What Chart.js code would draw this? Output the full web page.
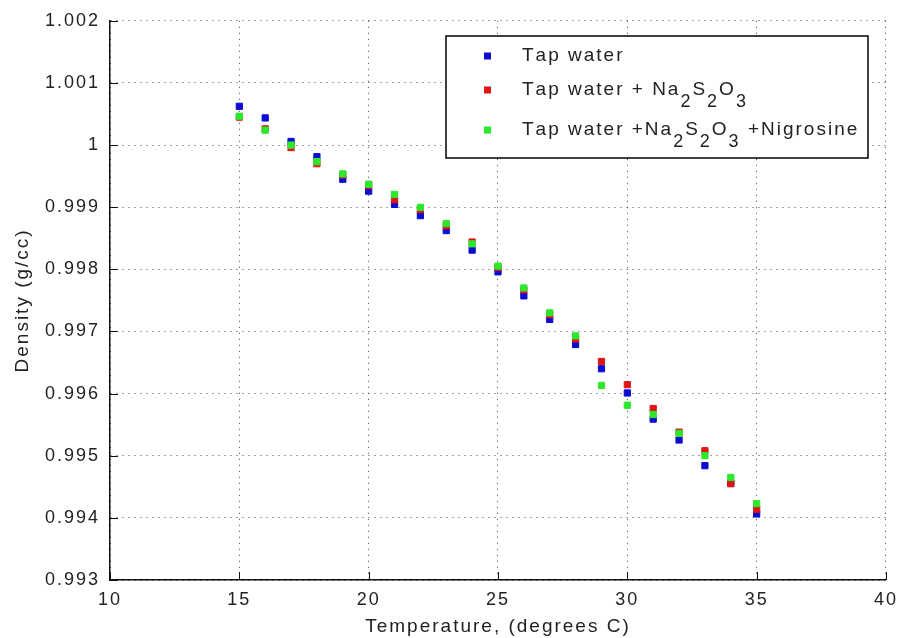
<!DOCTYPE html>
<html>
<head>
<meta charset="utf-8">
<script src="https://cdn.jsdelivr.net/npm/chart.js@4"></script>
<style>
  html, body { margin: 0; padding: 0; background: #fff; }
  #wrap { width: 907px; height: 638px; }
</style>
</head>
<body>
<div id="wrap"><canvas id="density-chart"></canvas></div>
<script>
// Density of tap water samples vs temperature, one reading per degree.
const temps = [15, 16, 17, 18, 19, 20, 21, 22, 23, 24, 25, 26, 27, 28, 29, 30, 31, 32, 33, 34, 35];

const tapWater = [
    1.000624, 1.000437, 1.000058, 0.999813, 0.999450, 0.999258, 0.999045,
    0.998864, 0.998624, 0.998310, 0.997960, 0.997573, 0.997194, 0.996790,
    0.996400, 0.996010, 0.995590, 0.995253, 0.994840, 0.994560, 0.994064
];
const tapThio = [
    1.000450, 1.000260, 0.999960, 0.999700, 0.999520, 0.999350, 0.999120,
    0.998960, 0.998700, 0.998440, 0.998030, 0.997670, 0.997270, 0.996880,
    0.996517, 0.996144, 0.995760, 0.995380, 0.995080, 0.994550, 0.994140
];
const tapThioNigrosine = [
    1.000464, 1.000240, 1.000000, 0.999733, 0.999536, 0.999370, 0.999205,
    0.998997, 0.998736, 0.998410, 0.998053, 0.997700, 0.997300, 0.996928,
    0.996133, 0.995813, 0.995664, 0.995360, 0.995002, 0.994650, 0.994230
];

// "_x" marks a subscript character in the legend text
const seriesLabels = ['Tap water', 'Tap water + Na_2S_2O_3', 'Tap water +Na_2S_2O_3 +Nigrosine'];
const seriesColors = ['#0b0bd2', '#e01515', '#2be82b'];

const xTicks = [10, 15, 20, 25, 30, 35, 40];
const yTicks = [0.993, 0.994, 0.995, 0.996, 0.997, 0.998, 0.999, 1.000, 1.001, 1.002];

const FONT = "'Liberation Sans', Arial, Helvetica, sans-serif";
const TEXT = '#222';

function points(ys) {
    return temps.map(function(t, i) { return { x: t, y: ys[i] }; });
}

function series(i, ys, order) {
    return {
        label: seriesLabels[i].replace(/_/g, ''),
        data: points(ys),
        backgroundColor: seriesColors[i],
        borderColor: seriesColors[i],
        borderWidth: 1,
        pointStyle: 'rect',
        pointRadius: 4.4,
        pointHoverRadius: 4.4,
        showLine: false,
        order: order,
    };
}

// Wide, airy labels like the old plotting tool
const spacingPlugin = {
    id: 'spacing',
    beforeUpdate(chart) { chart.ctx.letterSpacing = '2px'; },
    beforeDraw(chart) { chart.ctx.letterSpacing = '2px'; },
};

// Short tick marks pointing into the plot on the left and bottom axes
const innerTicksPlugin = {
    id: 'innerTicks',
    afterDatasetsDraw(chart) {
        const ctx = chart.ctx;
        const area = chart.chartArea;
        const xs = chart.scales.x, ys = chart.scales.y;
        ctx.save();
        ctx.strokeStyle = '#111';
        ctx.lineWidth = 1;
        ctx.beginPath();
        xTicks.forEach(function(v) {
            const px = Math.round(xs.getPixelForValue(v)) + 0.5;
            ctx.moveTo(px, area.bottom);
            ctx.lineTo(px, area.bottom - 8);
        });
        yTicks.forEach(function(v) {
            const py = Math.round(ys.getPixelForValue(v)) + 0.5;
            ctx.moveTo(area.left, py);
            ctx.lineTo(area.left + 8, py);
        });
        ctx.stroke();
        ctx.restore();
    }
};

// Boxed legend with chemical-formula subscripts
const formulaLegendPlugin = {
    id: 'formulaLegend',
    afterDraw(chart) {
        const ctx = chart.ctx;
        const box = { left: 446, top: 36, right: 868, bottom: 158 };
        const rowY = [56, 90, 130];
        ctx.save();
        ctx.fillStyle = '#fff';
        ctx.fillRect(box.left, box.top, box.right - box.left, box.bottom - box.top);
        ctx.strokeStyle = '#000';
        ctx.lineWidth = 1.5;
        ctx.strokeRect(box.left, box.top, box.right - box.left, box.bottom - box.top);

        ctx.textBaseline = 'middle';
        ctx.textAlign = 'left';
        seriesLabels.forEach(function(label, i) {
            const y = rowY[i];
            ctx.fillStyle = seriesColors[i];
            ctx.fillRect(484, y - 3.5, 7, 7);

            let x = 522;
            ctx.fillStyle = TEXT;
            for (let k = 0; k < label.length; k++) {
                const ch = label[k];
                if (ch === '_') {
                    const sub = label[++k];
                    ctx.font = '18px ' + FONT;
                    ctx.fillText(sub, x, y + 12);
                    x += ctx.measureText(sub).width;
                } else {
                    ctx.font = '19px ' + FONT;
                    ctx.fillText(ch, x, y);
                    x += ctx.measureText(ch).width;
                }
            }
        });
        ctx.restore();
    }
};

new Chart(document.getElementById('density-chart'), {
    type: 'scatter',
    data: {
        datasets: [
            series(0, tapWater, 2),
            series(1, tapThio, 1),
            series(2, tapThioNigrosine, 0),
        ]
    },
    options: {
        responsive: true,
        maintainAspectRatio: false,
        animation: false,
        events: [],
        layout: { padding: { left: 0, top: 17, right: 15, bottom: 0 } },
        plugins: {
            legend: { display: false },
            tooltip: { enabled: false },
        },
        scales: {
            x: {
                type: 'linear',
                min: 10,
                max: 40,
                afterBuildTicks(scale) { scale.ticks = xTicks.map(function(v) { return { value: v }; }); },
                afterFit(scale) { scale.height = 58; },
                grid: {
                    color: '#444',
                    lineWidth: 1,
                    drawTicks: false,
                },
                // dash here styles the dotted grid lines
                border: { display: true, color: '#111', width: 1.5, dash: [1, 5] },
                ticks: {
                    padding: 9,
                    color: TEXT,
                    font: { family: FONT, size: 18 },
                    maxRotation: 0,
                },
                title: {
                    display: true,
                    text: 'Temperature, (degrees C)',
                    color: TEXT,
                    font: { family: FONT, size: 19 },
                    padding: { top: 0, bottom: 0 },
                }
            },
            y: {
                type: 'linear',
                min: 0.993,
                max: 1.002,
                afterBuildTicks(scale) { scale.ticks = yTicks.map(function(v) { return { value: v }; }); },
                afterFit(scale) { scale.width = 110; },
                grid: {
                    color: '#444',
                    lineWidth: 1,
                    drawTicks: false,
                },
                border: { display: true, color: '#111', width: 1.5, dash: [1, 5] },
                ticks: {
                    padding: 10,
                    color: TEXT,
                    font: { family: FONT, size: 18 },
                    callback: function(v) { return String(parseFloat(v.toFixed(3))); },
                },
                title: {
                    display: true,
                    text: 'Density (g/cc)',
                    color: TEXT,
                    font: { family: FONT, size: 19 },
                    padding: { top: 11, bottom: 0 },
                }
            }
        }
    },
    plugins: [spacingPlugin, innerTicksPlugin, formulaLegendPlugin]
});
</script>
</body>
</html>
